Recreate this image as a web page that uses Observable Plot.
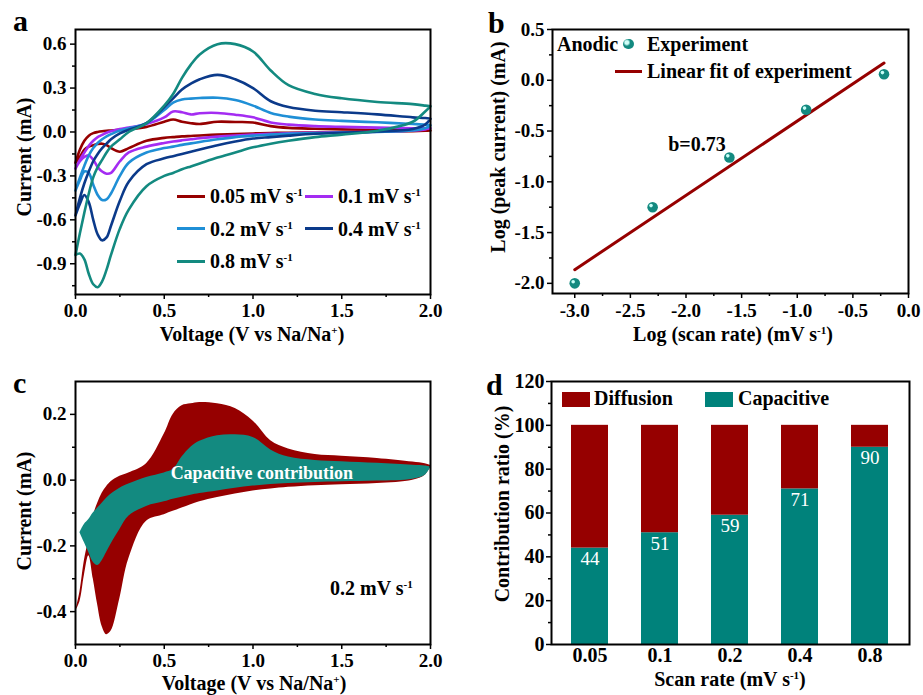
<!DOCTYPE html>
<html><head><meta charset="utf-8">
<script src="https://cdn.jsdelivr.net/npm/d3@7"></script>
<script src="https://cdn.jsdelivr.net/npm/@observablehq/plot@0.6"></script>
<style>
html,body{margin:0;padding:0;background:#fff;}
#fig{position:relative;width:923px;height:695px;overflow:hidden;background:#fff;font-family:"Liberation Serif","Times New Roman",serif;font-weight:bold;color:#000;}
.panel{position:absolute;}
.t{position:absolute;white-space:nowrap;font-size:20px;line-height:20px;}
.t sup{font-size:0.55em;vertical-align:0.6em;line-height:0;}
.rot{transform:translate(-50%,-50%) rotate(-90deg);}
.ctr{transform:translateX(-50%);line-height:14px;}
.sw{position:absolute;}
.letter{font-size:30px;line-height:30px;}
</style></head><body><div id="fig"></div>
<script>
// ---------- DATA ----------
const scanRates = ["0.05", "0.1", "0.2", "0.4", "0.8"];
const voltage = [0, 0.025, 0.05, 0.075, 0.1, 0.125, 0.15, 0.175, 0.2, 0.25, 0.3, 0.4, 0.5, 0.55, 0.6, 0.65, 0.7, 0.8, 0.9, 1.0, 1.1, 1.2, 1.35, 1.5, 1.7, 1.9, 1.97, 2.0];
// panel a: anodic (0 -> 2 V) and cathodic (2 -> 0 V) currents, read at the voltages above
const anodic005 = [-0.21, -0.12, -0.06, -0.025, -0.008, 0.0, 0.005, 0.008, 0.01, 0.015, 0.02, 0.035, 0.07, 0.085, 0.07, 0.06, 0.055, 0.07, 0.068, 0.065, 0.04, 0.028, 0.022, 0.018, 0.014, 0.012, 0.011, 0.01];
const cathodic005 = [-0.21, -0.17, -0.12, -0.10, -0.09, -0.082, -0.08, -0.09, -0.11, -0.135, -0.11, -0.06, -0.04, -0.035, -0.03, -0.027, -0.024, -0.018, -0.014, -0.01, -0.007, -0.005, -0.003, -0.001, 0.002, 0.005, 0.008, 0.01];
const anodic01 = [-0.25, -0.19, -0.14, -0.095, -0.06, -0.035, -0.02, -0.005, 0.005, 0.02, 0.03, 0.055, 0.10, 0.14, 0.135, 0.12, 0.128, 0.13, 0.118, 0.10, 0.065, 0.05, 0.04, 0.035, 0.03, 0.026, 0.025, 0.025];
const cathodic01 = [-0.25, -0.20, -0.17, -0.16, -0.19, -0.24, -0.27, -0.285, -0.28, -0.20, -0.14, -0.10, -0.075, -0.065, -0.057, -0.05, -0.043, -0.032, -0.024, -0.018, -0.013, -0.009, -0.005, -0.002, 0.002, 0.01, 0.018, 0.025];
const anodic02 = [-0.40, -0.31, -0.23, -0.16, -0.11, -0.075, -0.05, -0.03, -0.015, 0.01, 0.025, 0.06, 0.15, 0.20, 0.222, 0.228, 0.232, 0.234, 0.218, 0.18, 0.13, 0.105, 0.085, 0.076, 0.066, 0.055, 0.05, 0.045];
const cathodic02 = [-0.40, -0.33, -0.27, -0.28, -0.36, -0.43, -0.465, -0.46, -0.42, -0.30, -0.21, -0.14, -0.11, -0.10, -0.088, -0.078, -0.068, -0.05, -0.035, -0.025, -0.018, -0.012, -0.008, -0.004, 0.0, 0.01, 0.025, 0.045];
const anodic04 = [-0.57, -0.45, -0.35, -0.27, -0.20, -0.15, -0.11, -0.08, -0.05, -0.01, 0.015, 0.06, 0.17, 0.23, 0.29, 0.33, 0.36, 0.39, 0.36, 0.30, 0.21, 0.17, 0.145, 0.135, 0.12, 0.10, 0.095, 0.09];
const cathodic04 = [-0.57, -0.49, -0.43, -0.48, -0.60, -0.70, -0.74, -0.72, -0.64, -0.47, -0.34, -0.22, -0.18, -0.165, -0.15, -0.135, -0.12, -0.09, -0.065, -0.045, -0.035, -0.025, -0.012, -0.005, 0.003, 0.02, 0.05, 0.09];
const anodic08 = [-0.84, -0.69, -0.55, -0.42, -0.31, -0.24, -0.19, -0.14, -0.10, -0.05, 0.0, 0.06, 0.18, 0.26, 0.37, 0.46, 0.53, 0.60, 0.60, 0.55, 0.42, 0.32, 0.26, 0.23, 0.205, 0.19, 0.18, 0.175];
const cathodic08 = [-0.84, -0.83, -0.87, -0.97, -1.04, -1.06, -1.02, -0.94, -0.84, -0.66, -0.53, -0.37, -0.30, -0.28, -0.255, -0.235, -0.215, -0.175, -0.14, -0.105, -0.08, -0.06, -0.035, -0.018, 0.008, 0.07, 0.14, 0.175];

// panel b
const logScanRate = [-3.0, -2.3, -1.61, -0.92, -0.22];
const logPeakCurrent = [-2.0, -1.25, -0.76, -0.29, 0.06];
const fitLabel = "b=0.73";

// panel c (0.2 mV/s): total CV and capacitive part
const totalAnodic = [-0.40, -0.34, -0.245, -0.18, -0.11, -0.07, -0.04, -0.02, -0.005, 0.012, 0.022, 0.05, 0.14, 0.20, 0.226, 0.232, 0.236, 0.232, 0.218, 0.18, 0.12, 0.095, 0.078, 0.073, 0.066, 0.055, 0.05, 0.045];
const totalCathodic = [-0.40, -0.37, -0.29, -0.23, -0.30, -0.38, -0.445, -0.47, -0.46, -0.36, -0.24, -0.125, -0.105, -0.095, -0.085, -0.075, -0.066, -0.053, -0.042, -0.033, -0.027, -0.022, -0.017, -0.014, -0.01, 0.0, 0.015, 0.04];
const capVoltage = [0.025, 0.05, 0.075, 0.1, 0.125, 0.15, 0.175, 0.2, 0.25, 0.3, 0.4, 0.5, 0.55, 0.6, 0.65, 0.7, 0.8, 0.9, 1.0, 1.1, 1.2, 1.35, 1.5, 1.7, 1.9, 1.97, 2.0];
const capAnodic = [-0.16, -0.135, -0.12, -0.10, -0.085, -0.07, -0.055, -0.043, -0.025, -0.012, 0.008, 0.022, 0.032, 0.07, 0.10, 0.118, 0.135, 0.138, 0.13, 0.092, 0.07, 0.06, 0.056, 0.051, 0.045, 0.043, 0.04];
const capCathodic = [-0.16, -0.19, -0.22, -0.25, -0.26, -0.245, -0.22, -0.195, -0.15, -0.11, -0.08, -0.066, -0.058, -0.052, -0.046, -0.041, -0.033, -0.025, -0.018, -0.013, -0.01, -0.007, -0.005, -0.003, 0.003, 0.015, 0.038];
const capLabel = "Capacitive contribution";

// panel d
const capacitivePct = [44, 51, 59, 71, 90];

// ---------- STYLE ----------
const RED = "#960000", PURPLE = "#A42CF2", LBLUE = "#1F8FD6", NAVY = "#0B3A8A", TEAL = "#138A80", BAR_TEAL = "#00827B";
const FONT = '"Liberation Serif","Times New Roman",serif';
const baseStyle = {fontFamily: FONT, fontSize: "19px", fontWeight: "bold", color: "#000", background: "transparent", overflow: "visible"};
const fig = document.getElementById("fig");

function place(node, left, top) {
  const d = document.createElement("div");
  d.className = "panel"; d.style.left = left + "px"; d.style.top = top + "px";
  d.appendChild(node); fig.appendChild(d);
}
function axesFor(xMaj, xMin, yMaj, yMin, fx, fy, xPad, yPad) {
  const m = [];
  m.push(Plot.axisX({ticks: xMaj, tickFormat: fx, tickSize: 5, tickPadding: xPad, label: null, strokeWidth: 1.5}));
  if (xMin) m.push(Plot.axisX({ticks: xMin, tickFormat: () => "", tickSize: 3, label: null, strokeWidth: 1.5}));
  m.push(Plot.axisY({ticks: yMaj, tickFormat: fy, tickSize: 5, tickPadding: yPad, label: null, strokeWidth: 1.5}));
  if (yMin) m.push(Plot.axisY({ticks: yMin, tickFormat: () => "", tickSize: 3, label: null, strokeWidth: 1.5}));
  return m;
}
const f1 = d => d.toFixed(1);

// ---------- PANEL A ----------
const seriesA = [
  {an: anodic005, ca: cathodic005, color: RED},
  {an: anodic01, ca: cathodic01, color: PURPLE},
  {an: anodic02, ca: cathodic02, color: LBLUE},
  {an: anodic04, ca: cathodic04, color: NAVY},
  {an: anodic08, ca: cathodic08, color: TEAL}
];
const linesA = [];
seriesA.forEach(s => {
  const rows = voltage.map((v, k) => ({v, i: s.an[k]})).concat(voltage.map((v, k) => ({v, i: s.ca[k]})).reverse());
  linesA.push(Plot.line(rows, {x: "v", y: "i", stroke: s.color, strokeWidth: 2.6, curve: "catmull-rom"}));
});
place(Plot.plot({
  width: 460, height: 345, marginLeft: 75, marginRight: 30, marginTop: 29, marginBottom: 51,
  style: baseStyle,
  x: {domain: [0, 2]}, y: {domain: [-1.11, 0.70]},
  marks: [
    ...linesA,
    ...axesFor([0, 0.5, 1, 1.5, 2], [0.25, 0.75, 1.25, 1.75], [-0.9, -0.6, -0.3, 0, 0.3, 0.6], [-1.05, -0.75, -0.45, -0.15, 0.15, 0.45], f1, f1, 4, 4),
    Plot.frame({stroke: "#000", strokeWidth: 2})
  ]
}), 0, 0);

// ---------- PANEL B ----------
const ptsB = logScanRate.map((x, k) => ({x, y: logPeakCurrent[k]}));
place(Plot.plot({
  width: 463, height: 345, marginLeft: 92, marginRight: 15, marginTop: 29, marginBottom: 52,
  style: baseStyle,
  x: {domain: [-3.2, 0]}, y: {domain: [-2.1, 0.5]},
  marks: [
    Plot.linearRegressionY(ptsB, {x: "x", y: "y", stroke: RED, strokeWidth: 3, ci: 0}),
    Plot.dot(ptsB, {x: "x", y: "y", r: 5.3, fill: TEAL}),
    Plot.dot(ptsB, {x: "x", y: "y", r: 1.8, fill: "#c8fff8", dx: -1.6, dy: -1.6}),
    Plot.text([fitLabel], {x: -2.16, y: -0.63, text: d => d, textAnchor: "start", fontSize: 20, fontWeight: "bold"}),
    ...axesFor([-3, -2.5, -2, -1.5, -1, -0.5, 0], [-2.75, -2.25, -1.75, -1.25, -0.75, -0.25], [-2, -1.5, -1, -0.5, 0, 0.5], [-1.75, -1.25, -0.75, -0.25, 0.25], f1, f1, 5, 3),
    Plot.frame({stroke: "#000", strokeWidth: 2})
  ]
}), 460, 0);

// ---------- PANEL C ----------
const totalRows = voltage.map((v, k) => ({v, lo: totalCathodic[k], hi: totalAnodic[k]}));
const capRows = capVoltage.map((v, k) => ({v, lo: capCathodic[k], hi: capAnodic[k]}));
place(Plot.plot({
  width: 460, height: 350, marginLeft: 75, marginRight: 30, marginTop: 36, marginBottom: 51,
  style: baseStyle,
  x: {domain: [0, 2]}, y: {domain: [-0.5, 0.3]},
  marks: [
    Plot.areaY(totalRows, {x: "v", y1: "lo", y2: "hi", fill: RED, curve: "catmull-rom"}),
    Plot.areaY(capRows, {x: "v", y1: "lo", y2: "hi", fill: TEAL, curve: "catmull-rom"}),
    Plot.text([capLabel], {x: 1.05, y: 0.02, text: d => d, fill: "white", fontSize: 18, fontWeight: "bold"}),
    ...axesFor([0, 0.5, 1, 1.5, 2], [0.25, 0.75, 1.25, 1.75], [-0.4, -0.2, 0, 0.2], [-0.3, -0.1, 0.1], f1, f1, 4, 4),
    Plot.frame({stroke: "#000", strokeWidth: 2})
  ]
}), 0, 345);

// ---------- PANEL D ----------
const barRows = scanRates.map((r, k) => ({rate: r, cap: capacitivePct[k]}));
place(Plot.plot({
  width: 463, height: 350, marginLeft: 91, marginRight: 14, marginTop: 36, marginBottom: 51,
  style: {...baseStyle, fontSize: "20px"},
  x: {type: "band", domain: scanRates, paddingInner: 0.47, paddingOuter: 0.265},
  y: {domain: [0, 120]},
  marks: [
    Plot.barY(barRows, {x: "rate", y1: 0, y2: "cap", fill: BAR_TEAL}),
    Plot.barY(barRows, {x: "rate", y1: "cap", y2: 100, fill: RED}),
    Plot.text(barRows, {x: "rate", y: "cap", text: d => String(d.cap), dy: 11, fill: "white", fontSize: 19, fontWeight: "normal"}),
    Plot.axisX({tickSize: 0, tickPadding: 3, label: null}),
    Plot.axisY({ticks: [0, 20, 40, 60, 80, 100, 120], tickSize: 5, tickPadding: 2, label: null, strokeWidth: 1.5}),
    Plot.axisY({ticks: [10, 30, 50, 70, 90, 110], tickFormat: () => "", tickSize: 3, label: null, strokeWidth: 1.5}),
    Plot.frame({stroke: "#000", strokeWidth: 2})
  ]
}), 460, 345);

// ---------- TEXT OVERLAYS (titles, legends, panel letters) ----------
function txt(html, left, top, cls = "", style = "") {
  const d = document.createElement("div");
  d.className = "t " + cls; d.innerHTML = html;
  d.style.cssText += `left:${left}px;top:${top}px;` + style;
  fig.appendChild(d); return d;
}
function box(left, top, w, h, color, extra = "") {
  const d = document.createElement("div");
  d.className = "sw";
  d.style.cssText = `left:${left}px;top:${top}px;width:${w}px;height:${h}px;background:${color};` + extra;
  fig.appendChild(d);
}
// panel letters
txt("a", 13, 6, "letter"); txt("b", 488, 8, "letter"); txt("c", 13, 368, "letter"); txt("d", 486, 370, "letter");
// axis titles
txt("Current (mA)", 24, 157, "rot");
txt("Voltage (V vs Na/Na<sup>+</sup>)", 252, 326.5, "ctr");
txt("Log (peak current) (mA)", 498, 147, "rot");
txt("Log (scan rate) (mV s<sup>-1</sup>)", 733, 326.5, "ctr");
txt("Current (mA)", 24, 511, "rot");
txt("Voltage (V vs Na/Na<sup>+</sup>)", 254, 675.5, "ctr");
txt("Contribution ratio (%)", 502, 504, "rot");
txt("Scan rate (mV s<sup>-1</sup>)", 730, 671.5, "ctr");
// panel a legend
const legA = [
  {c: RED, x: 177, y: 196}, {c: PURPLE, x: 305, y: 196},
  {c: LBLUE, x: 177, y: 228.5}, {c: NAVY, x: 305, y: 228.5},
  {c: TEAL, x: 177, y: 261}
];
legA.forEach((e, k) => {
  box(e.x, e.y - 1.5, 28, 3, e.c);
  txt(`${scanRates[k]} mV s<sup>-1</sup>`, e.x + 33, e.y - 10);
});
// panel b legend
txt("Anodic", 557, 33.5);
box(623, 38.5, 10.6, 10.6, TEAL, "border-radius:50%;background:radial-gradient(circle at 35% 35%, #d0fff8 0 18%, " + TEAL + " 38%);");
txt("Experiment", 647, 33.5);
box(615, 69.5, 27, 3, RED);
txt("Linear fit of experiment", 647, 60.5);
// panel c annotation
txt("0.2 mV s<sup>-1</sup>", 330, 578);
// panel d legend
box(562, 392, 28, 15, RED);
txt("Diffusion", 594, 388);
box(705, 392, 28, 15, BAR_TEAL);
txt("Capacitive", 738, 388);
</script></body></html>
